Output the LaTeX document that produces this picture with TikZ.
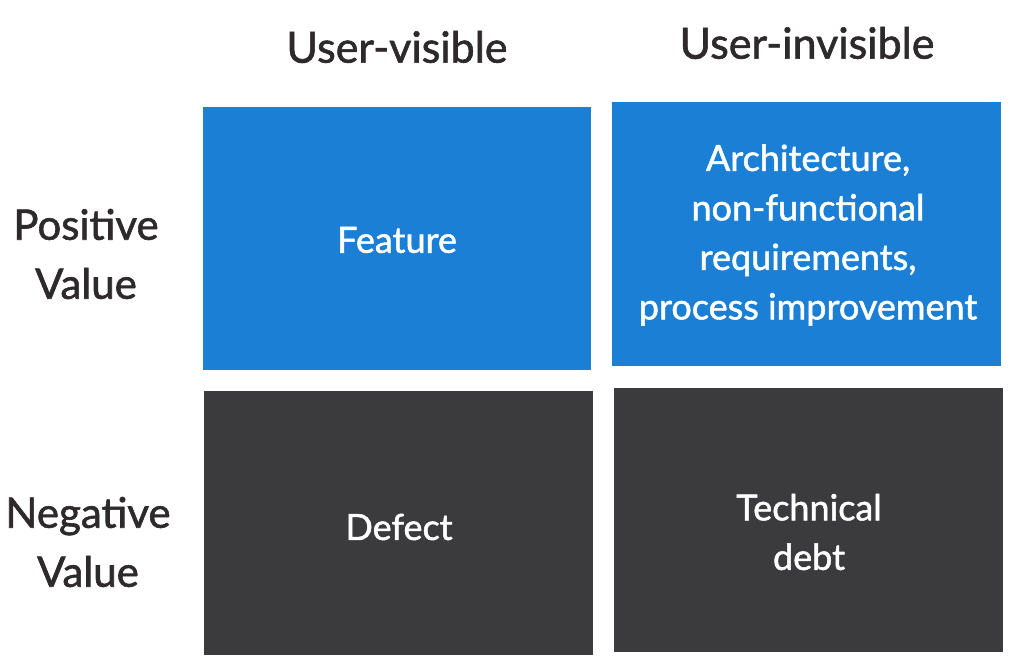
\documentclass[tikz,border=0pt]{standalone}
\usepackage{fontspec}
\setmainfont{Lato}[FakeBold=1.4]
\definecolor{cellblue}{RGB}{28,127,214}
\definecolor{celldark}{RGB}{59,59,61}
\definecolor{labeltext}{RGB}{46,42,43}
\begin{document}
\begin{tikzpicture}[x=1pt,y=-1pt,
  cell/.style={draw=none,anchor=north west,inner sep=0pt},
  celltext/.style={text=white,align=center,inner sep=0pt,font=\fontsize{36}{49.5}\selectfont},
  head/.style={text=labeltext,align=center,font=\fontsize{43}{50}\selectfont},
  side/.style={text=labeltext,align=center,font=\fontsize{42}{59}\selectfont}]
\useasboundingbox[fill=white] (0,0) rectangle (1024,665);
\node[cell,fill=cellblue,minimum width=388pt,minimum height=263pt] (pv) at (203,107) {};
\node[cell,fill=cellblue,minimum width=389pt,minimum height=264pt] (pi) at (612,102) {};
\node[cell,fill=celldark,minimum width=389pt,minimum height=264pt] (nv) at (204,391) {};
\node[cell,fill=celldark,minimum width=389pt,minimum height=264pt] (ni) at (614,388) {};
\node[celltext] (tpv) at (397,240) {Feature};
\node[celltext] (tpi) at (808,235) {Architecture,\\non-functional\\requirements,\\process improvement};
\node[celltext] (tnv) at (399,527) {Defect};
\node[celltext] (tni) at (809,532) {Technical\\debt};
\node[head] (h1) at (397,47) {User-visible};
\node[head] (h2) at (807,43) {User-invisible};
\node[side] (s1) at (86,254) {Positive\\Value};
\node[side] (s2) at (88,542) {Negative\\Value};
\end{tikzpicture}
\end{document}
